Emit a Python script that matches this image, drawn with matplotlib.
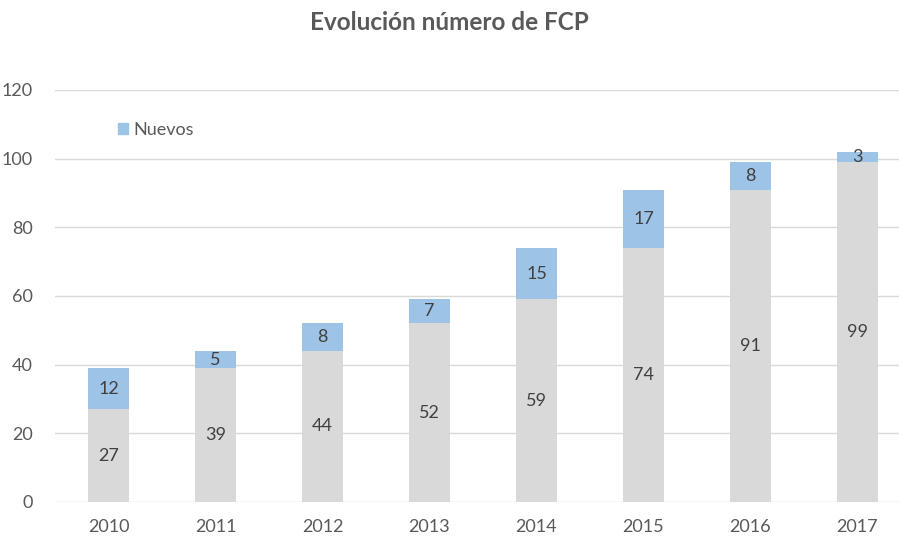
import matplotlib
matplotlib.use("Agg")
import matplotlib.pyplot as plt
from matplotlib.patches import Patch

years = ["2010", "2011", "2012", "2013", "2014", "2015", "2016", "2017"]
base = [27, 39, 44, 52, 59, 74, 91, 99]
nuevos = [12, 5, 8, 7, 15, 17, 8, 3]

gray = "#D9D9D9"
blue = "#9DC3E6"
txt = "#404040"
tick_col = "#595959"

plt.rcParams['font.family'] = ['Lato', 'DejaVu Sans']

fig = plt.figure(figsize=(8.99, 5.40), dpi=100)
ax = fig.add_axes([55/899, 1-502/540, 856/899, 412/540])

x = list(range(len(years)))
w = 0.39
ax.bar(x, base, width=w, color=gray, zorder=2)
ax.bar(x, nuevos, width=w, bottom=base, color=blue, zorder=2)

for i in x:
    ax.text(i, base[i]/2, str(base[i]), ha='center', va='center', fontsize=13, color=txt, zorder=3)
    ax.text(i, base[i] + nuevos[i]/2, str(nuevos[i]), ha='center', va='center', fontsize=13, color=txt, zorder=3)

ax.set_xlim(-0.5, 7.5)
ax.set_ylim(0, 120)
ax.set_yticks(range(0, 121, 20))
ax.set_xticks(x)
ax.set_xticklabels(years)
ax.yaxis.grid(True, color="#D9D9D9", linewidth=1, zorder=0)
ax.set_axisbelow(True)
for s in ax.spines.values():
    s.set_visible(False)
ax.tick_params(axis='both', length=0, labelsize=13, labelcolor=tick_col)
ax.tick_params(axis='y', pad=16)
ax.tick_params(axis='x', pad=12)

fig.text(0.5, 1-22/540, "Evolución número de FCP", ha='center', va='center',
         fontsize=17.5, fontweight='bold', color=tick_col)

leg = fig.legend(handles=[Patch(color=blue, label="Nuevos")], loc='center left',
                 bbox_to_anchor=(118/899, 1-130/540), frameon=False, fontsize=13,
                 borderpad=0, borderaxespad=0,
                 handlelength=0.55, handleheight=0.55, handletextpad=0.3, labelcolor=tick_col)

fig.savefig("out.png", dpi=100)
